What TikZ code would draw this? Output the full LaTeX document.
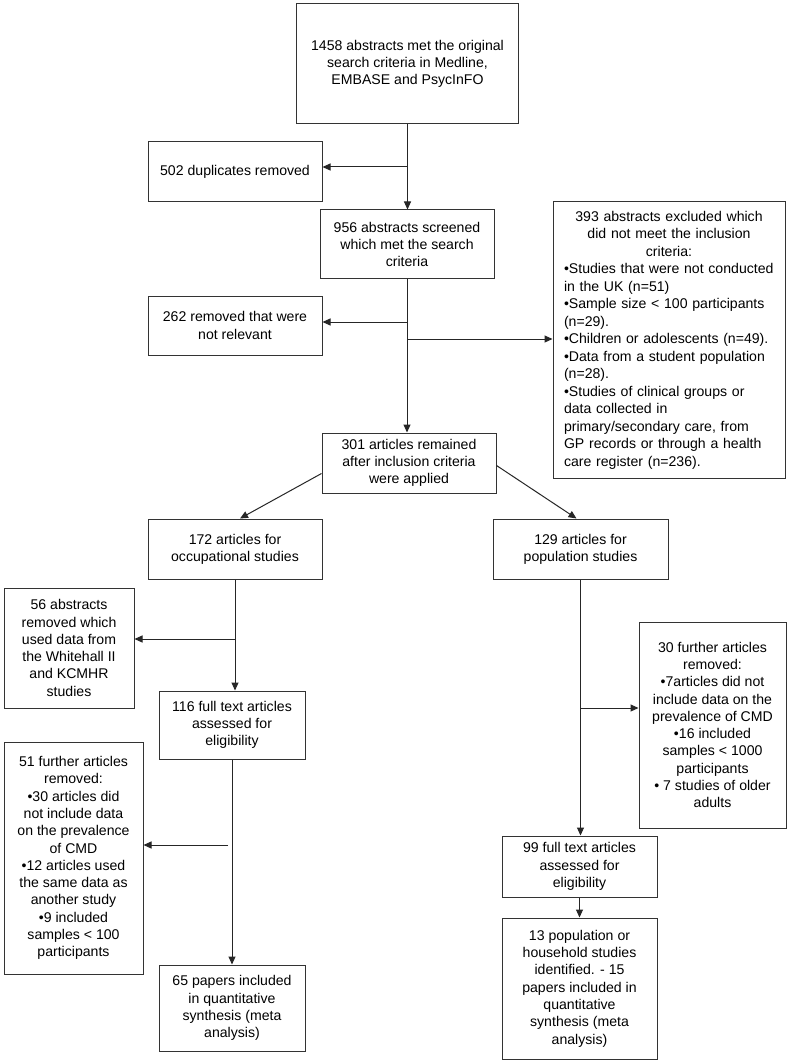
\documentclass[tikz,border=0pt]{standalone}
\usepackage{fontspec}
\setmainfont{Liberation Sans}
\usetikzlibrary{arrows.meta,calc}
\begin{document}
\begin{tikzpicture}[x=1pt,y=-1pt]
\tikzset{
 box/.style={draw=black!80, line width=1pt, fill=white, align=center, font=\fontsize{14.1}{17.3}\selectfont, inner sep=3pt},
 arr/.style={draw=black!85, line width=1pt, -{Triangle[length=8pt,width=7pt]}},
}
\fill[white] (0,0) rectangle (790,1064);
\useasboundingbox (0,0) rectangle (790,1064);

\node[box, minimum width=222pt, minimum height=120pt] (b1) at (407.5,64) {1458 abstracts met the original\\search criteria in Medline,\\EMBASE and PsycInFO};
\node[box, minimum width=174pt, minimum height=60pt] (dup) at (235,172) {502 duplicates removed};
\node[box, minimum width=174pt, minimum height=69pt] (b956) at (407,244.5) {956 abstracts screened\\which met the search\\criteria};
\node[box, minimum width=174pt, minimum height=59pt] (b262) at (235,325.5) {262 removed that were\\not relevant};
\node[box, minimum width=232pt, minimum height=276pt, text width=210pt, align=left, font=\fontsize{14.1}{17.5}\selectfont] (b393) at (669,340) {{\centering 393 abstracts excluded which\\did not meet the inclusion\\criteria:\par}\raggedright
•Studies that were not conducted\\in the UK (n=51)\\•Sample size < 100 participants\\(n=29).\\•Children or adolescents (n=49).\\•Data from a student population\\(n=28).\\•Studies of clinical groups or\\data collected in\\primary/secondary care, from\\GP records or through a health\\care register (n=236).};
\node[box, minimum width=174pt, minimum height=60pt] (b301) at (409,463) {301 articles remained\\after inclusion criteria\\were applied};
\node[box, minimum width=174pt, minimum height=60pt] (b172) at (235,549) {172 articles for\\occupational studies};
\node[box, minimum width=175pt, minimum height=60pt] (b129) at (580.5,549) {129 articles for\\population studies};
\node[box, minimum width=130pt, minimum height=120pt] (b56) at (69,648) {56 abstracts\\removed which\\used data from\\the Whitehall II\\and KCMHR\\studies};
\node[box, minimum width=146pt, minimum height=68pt] (b116) at (232,725) {116 full text articles\\assessed for\\eligibility};
\node[box, minimum width=139pt, minimum height=232pt] (b51) at (73.5,858) {51 further articles\\removed:\\•30 articles did\\not include data\\on the prevalence\\of CMD\\•12 articles used\\the same data as\\another study\\•9 included\\samples < 100\\participants};
\node[box, minimum width=146pt, minimum height=86pt] (b65) at (232,1008) {65 papers included\\in quantitative\\synthesis (meta\\analysis)};
\node[box, minimum width=147pt, minimum height=206pt] (b30) at (712.5,725) {30 further articles\\removed:\\•7articles did not\\include data on the\\prevalence of CMD\\•16 included\\samples < 1000\\participants\\• 7 studies of older\\adults};
\node[box, minimum width=155pt, minimum height=61pt] (b99) at (579.5,866.5) {99 full text articles\\assessed for\\eligibility};
\node[box, minimum width=155pt, minimum height=141pt] (b13) at (579.5,988.5) {13 population or\\household studies\\identified. - 15\\papers included in\\quantitative\\synthesis (meta\\analysis)};

\draw[arr] (b1.south) -- (b1.south |- b956.north);
\coordinate (jdup) at (407,167);
\draw[arr] (jdup) -- (jdup -| dup.east);
\draw[arr] (b956.south) -- (b956.south |- b301.north);
\coordinate (j262) at (407,322);
\draw[arr] (j262) -- (j262 -| b262.east);
\coordinate (j393) at (407,339);
\draw[arr] (j393) -- (j393 -| b393.west);
\draw[arr] ($(b301.south west)+(0,-20)$) -- ($(b172.north)+(5,0)$);
\draw[arr] ($(b301.south east)+(0,-28)$) -- ($(b129.north)+(-4,0)$);
\draw[arr] (b172.south) -- (b172.south |- b116.north);
\coordinate (j56) at (235,639);
\draw[arr] (j56) -- (j56 -| b56.east);
\draw[arr] (b116.south) -- (b116.south |- b65.north);
\coordinate (j51) at (228,845);
\draw[arr] (j51) -- (j51 -| b51.east);
\draw[arr] (b129.south) -- (b129.south |- b99.north);
\coordinate (j30) at (580.5,708);
\draw[arr] (j30) -- (j30 -| b30.west);
\draw[arr] (b99.south) -- (b13.north);
\end{tikzpicture}
\end{document}
